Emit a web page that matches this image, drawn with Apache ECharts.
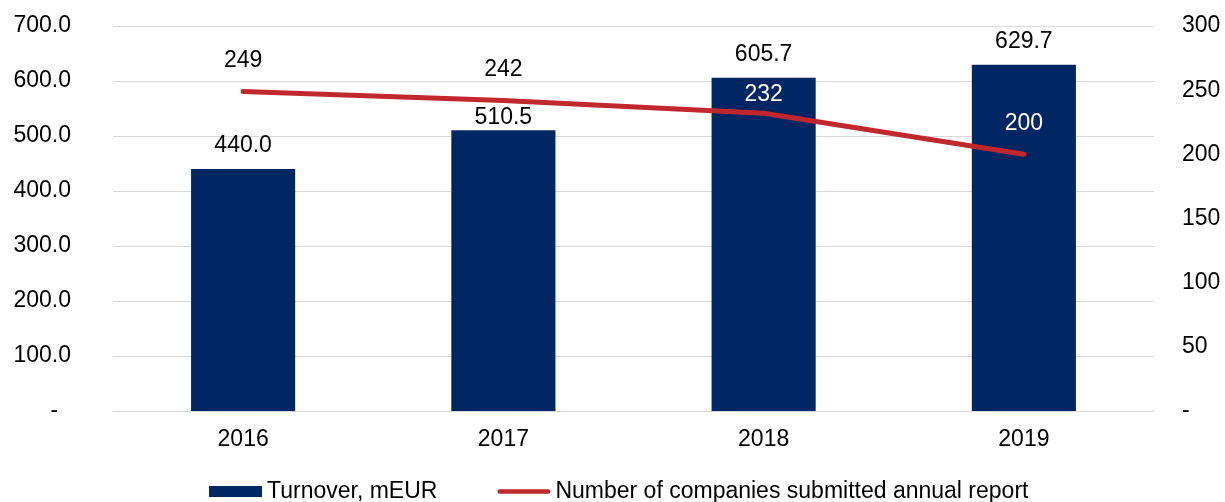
<!DOCTYPE html>
<html>
<head>
<meta charset="utf-8">
<script src="https://cdn.jsdelivr.net/npm/echarts@6/dist/echarts.min.js"></script>
<style>
  html, body { margin: 0; padding: 0; background: #fff; }
  #chart { width: 1225px; height: 502px; }
</style>
</head>
<body>
<div id="chart"></div>
<script>
const years = ['2016', '2017', '2018', '2019']
const turnover = [440.0, 510.5, 605.7, 629.7]
const companies = [249, 242, 232, 200]

// label placement per point (white where the line label sits on a bar)
const barLabelDistance = [12, 1, 12, 12]
const lineLabelColor = ['#000', '#000', '#fff', '#fff']
const lineLabelDistance = [19, 19, 7, 19]

const font = 'Liberation Sans, Arial, sans-serif'
const fs = 23

const chart = echarts.init(document.getElementById('chart'))

const option = {
  animation: false,
  backgroundColor: '#fff',
  textStyle: { fontFamily: font },
  grid: { left: 113, right: 71, top: 26, bottom: 91 },
  legend: {
    left: 204,
    top: 475,
    itemWidth: 53,
    itemHeight: 11,
    itemGap: 60,
    symbolKeepAspect: true,
    textStyle: { fontSize: fs, color: '#000', fontFamily: font, padding: [0, 0, 0, 0] },
    data: [
      { name: 'Turnover, mEUR', icon: 'rect' },
      { name: 'Number of companies submitted annual report', icon: 'path://M2.5,0 L54.5,0 A2.5,2.5 0 0 1 54.5,5 L2.5,5 A2.5,2.5 0 0 1 2.5,0 Z' }
    ]
  },
  xAxis: {
    type: 'category',
    data: years,
    axisLine: { lineStyle: { color: '#d9d9d9', width: 1 } },
    axisTick: { show: false },
    axisLabel: { color: '#000', fontSize: fs, margin: 17, fontFamily: font }
  },
  yAxis: [
    {
      type: 'value',
      min: 0,
      max: 700,
      interval: 100,
      axisLine: { show: false },
      axisTick: { show: false },
      splitLine: { lineStyle: { color: '#d9d9d9', width: 1 } },
      axisLabel: {
        color: '#000',
        fontSize: fs,
        margin: 42,
        fontFamily: font,
        formatter: v => v === 0 ? '-  ' : v.toFixed(1)
      }
    },
    {
      type: 'value',
      min: 0,
      max: 300,
      interval: 50,
      axisLine: { show: false },
      axisTick: { show: false },
      splitLine: { show: false },
      axisLabel: {
        color: '#000',
        fontSize: fs,
        margin: 28,
        fontFamily: font,
        formatter: v => v === 0 ? '-' : String(v)
      }
    }
  ],
  series: [
    {
      name: 'Turnover, mEUR',
      type: 'bar',
      yAxisIndex: 0,
      barWidth: '40%',
      itemStyle: { color: '#002664' },
      label: {
        show: true,
        position: 'top',
        color: '#000',
        fontSize: fs,
        fontFamily: font,
        formatter: p => p.value.toFixed(1)
      },
      data: turnover.map((v, i) => ({
        value: v,
        label: { distance: barLabelDistance[i] }
      }))
    },
    {
      name: 'Number of companies submitted annual report',
      type: 'line',
      yAxisIndex: 1,
      symbol: 'circle',
      symbolSize: 0.1,
      showSymbol: true,
      itemStyle: { color: '#c0282d' },
      lineStyle: { color: '#c0282d', width: 5, cap: 'round' },
      label: { show: true, position: 'top', fontSize: fs, fontFamily: font },
      data: companies.map((v, i) => ({
        value: v,
        label: { color: lineLabelColor[i], distance: lineLabelDistance[i] }
      })),
      z: 4
    }
  ]
}

chart.setOption(option)
window.addEventListener('resize', () => chart.resize())
</script>
</body>
</html>
